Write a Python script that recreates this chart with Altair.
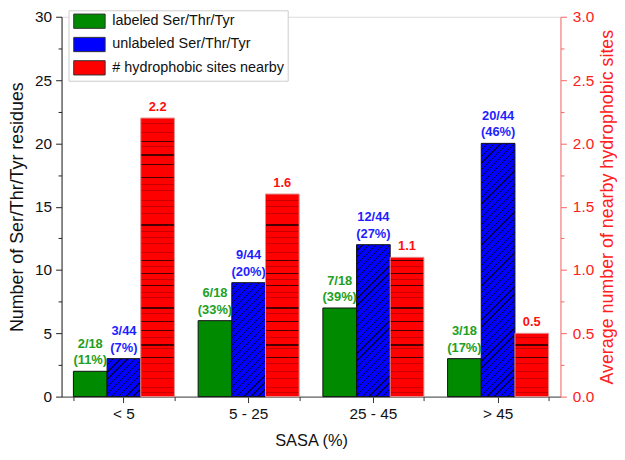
import math
import altair as alt
import pandas as pd

# ---------------- data ----------------
categories = ["< 5", "5 - 25", "25 - 45", "> 45"]
series_names = ["labeled Ser/Thr/Tyr", "unlabeled Ser/Thr/Tyr", "# hydrophobic sites nearby"]
labeled_counts = [2, 6, 7, 3]
labeled_frac = ["2/18", "6/18", "7/18", "3/18"]
labeled_pct = ["(11%)", "(33%)", "(39%)", "(17%)"]
unlabeled_counts = [3, 9, 12, 20]
unlabeled_frac = ["3/44", "9/44", "12/44", "20/44"]
unlabeled_pct = ["(7%)", "(20%)", "(27%)", "(46%)"]
hydro_avg = [2.2, 1.6, 1.1, 0.5]
hydro_labels = ["2.2", "1.6", "1.1", "0.5"]

# ---------------- style ----------------
FONT = "Arial, Liberation Sans, sans-serif"
PLOT_W, PLOT_H = 503, 383
Y_MAX, Y2_MAX = 30, 3
PAD_IN, PAD_OUT = 0.19, 0.095
GREEN, BLUE, RED = "#008a00", "#0000ff", "#ff0000"
STEP = PLOT_W / (len(categories) - PAD_IN + 2 * PAD_OUT)
BAR_W = STEP * (1 - PAD_IN) / 3
TICK_FS = 15.5
TITLE_FS = 18

# decorative line pattern of the red bars (px from bar bottom)
RED_PATTERN_DARK = [257, 243.7, 234.3, 221, 173, 137, 124.3, 112, 89.3, 76, 67, 52, 39.3]
RED_PATTERN_LIGHT = [281, 275.3, 266, 252, 214.3, 207.7, 198, 191.3, 184.7, 166.3, 160.3,
                     154.3, 145.3, 131.3, 117.7, 105.3, 100.3, 83.7, 59.7, 48.7, 33.7,
                     25.3, 18.7, 9.7, 4.3]


def hatch_gradient(h, w=BAR_W, period=4.9, lw=0.9, base=BLUE, ink="#000040"):
    L = (w + h) / math.sqrt(2)
    n = max(1, round(L / period))
    lam = (w + h) / (w * w + h * h)
    t_lw = lw / L
    stops = []
    for k in range(n):
        a, b = k / n, (k + 1) / n
        stops += [{"offset": a, "color": base}, {"offset": b - t_lw, "color": base},
                  {"offset": b - t_lw, "color": ink}, {"offset": b, "color": ink}]
    return {"gradient": "linear", "x1": 0, "y1": 0, "x2": w * lam, "y2": h * lam, "stops": stops}


def line_gradient(h, base=RED):
    lines = [(d, "#4a0000", 1.2) for d in RED_PATTERN_DARK] + \
            [(d, "#c80000", 1.0) for d in RED_PATTERN_LIGHT]
    lines = sorted([l for l in lines if l[0] < h - 1.5], key=lambda l: -l[0])
    stops = [{"offset": 0, "color": base}]
    for d, c, lw in lines:
        t = 1 - d / h
        a, b = t - lw / 2 / h, t + lw / 2 / h
        stops += [{"offset": a, "color": base}, {"offset": a, "color": c},
                  {"offset": b, "color": c}, {"offset": b, "color": base}]
    stops.append({"offset": 1, "color": base})
    return {"gradient": "linear", "x1": 0, "y1": 0, "x2": 0, "y2": 1, "stops": stops}


rows = []
for i, c in enumerate(categories):
    rows.append({"cat": c, "series": series_names[0], "value": labeled_counts[i],
                 "l1": labeled_frac[i], "l2": labeled_pct[i]})
    rows.append({"cat": c, "series": series_names[1], "value": unlabeled_counts[i],
                 "l1": unlabeled_frac[i], "l2": unlabeled_pct[i]})
    rows.append({"cat": c, "series": series_names[2], "value": hydro_avg[i],
                 "l1": "", "l2": hydro_labels[i]})
df = pd.DataFrame(rows)

x_scale = alt.Scale(domain=categories, paddingInner=PAD_IN, paddingOuter=PAD_OUT)
x_main = alt.X("cat:N", sort=categories, scale=x_scale,
               axis=alt.Axis(orient="bottom", title="SASA (%)", labelAngle=0, labelFontSize=TICK_FS,
                             titleFontSize=16.5, labelFont=FONT, titleFont=FONT, titleFontWeight="normal",
                             labelColor="#111", titleColor="#111", tickSize=6, tickColor="#333",
                             domainColor="#666", domainWidth=1.5, labelPadding=4, titlePadding=11))
x_minor = alt.X("cat:N", sort=categories, scale=x_scale,
                axis=alt.Axis(orient="bottom", title=None, labels=False, domain=False, tickBand="extent",
                              tickSize=4, tickColor="#333"))
xo = alt.XOffset("series:N", scale=alt.Scale(domain=series_names, paddingInner=0, paddingOuter=0))

y_left = alt.Y("value:Q", scale=alt.Scale(domain=[0, Y_MAX], nice=False, zero=True),
               axis=alt.Axis(title="Number of Ser/Thr/Tyr residues", values=[i * 2.5 for i in range(13)],
                             labelExpr="datum.value % 5 === 0 ? datum.label : ''",
                             tickSize={"condition": {"test": "datum.value % 5 === 0", "value": 6}, "value": 3.5},
                             labelFontSize=TICK_FS, titleFontSize=TITLE_FS, labelFont=FONT, titleFont=FONT,
                             titleFontWeight="normal", labelColor="#111", titleColor="#111",
                             tickColor="#222", domainColor="#222", labelPadding=4, titlePadding=8,
                             grid=False))
y_right = alt.Y("value:Q", scale=alt.Scale(domain=[0, Y2_MAX], nice=False, zero=True),
                axis=alt.Axis(orient="right", title="Average number of nearby hydrophobic sites",
                              values=[i * 0.25 for i in range(13)],
                              labelExpr="round(datum.value * 100) % 50 === 0 ? format(datum.value, '.1f') : ''",
                              tickSize={"condition": {"test": "round(datum.value * 100) % 50 === 0", "value": 6}, "value": 3.5},
                              labelFontSize=TICK_FS, titleFontSize=TITLE_FS, labelFont=FONT, titleFont=FONT,
                              titleFontWeight="normal", labelColor="#ff2020", titleColor="#ff2020",
                              tickColor="#ff6060", domainColor="#ff7070", labelPadding=6, titlePadding=5,
                              titleAngle=270, titleBaseline="top", grid=False))

legend = alt.Legend(orient="none", legendX=7, legendY=-6.5, title=None,
                    symbolType="M-2.2,-1H2.2V1H-2.2Z", symbolSize=207, symbolOffset=10.1,
                    symbolStrokeColor="#333", symbolStrokeWidth=1,
                    labelFont=FONT, labelFontSize=14.5, labelColor="#111", labelOffset=15,
                    labelLimit=400,
                    strokeColor="#cccccc", fillColor="white", padding=3, rowPadding=3.5)
color = alt.Color("series:N", scale=alt.Scale(domain=series_names, range=[GREEN, BLUE, RED]), legend=legend)

px_left = PLOT_H / Y_MAX
px_right = PLOT_H / Y2_MAX

blue_fill = alt.FillValue(
    value=BLUE,
    condition=[{"test": f"datum.cat === '{c}'", "value": hatch_gradient(unlabeled_counts[i] * px_left)}
               for i, c in enumerate(categories)])
red_fill = alt.FillValue(
    value=RED,
    condition=[{"test": f"datum.cat === '{c}'", "value": line_gradient(hydro_avg[i] * px_right)}
               for i, c in enumerate(categories)])

base = alt.Chart(df)


def only(k):
    return base.transform_filter(alt.datum.series == series_names[k])


green_bars = only(0).mark_bar(stroke="#111", strokeWidth=1).encode(
    x=x_main, xOffset=xo, y=y_left, color=color)
blue_bars = only(1).mark_bar(stroke="#111", strokeWidth=1).encode(
    x=x_main, xOffset=xo, y=y_left, fill=blue_fill)

text_props = dict(baseline="bottom", fontWeight="bold", fontSize=13, font=FONT)
LINE_H = 16.5


def label_layers(k, col, y):
    a = only(k).mark_text(color=col, dy=-4 - LINE_H, **text_props).encode(
        x=x_main, xOffset=xo, y=y, text="l1:N")
    b = only(k).mark_text(color=col, dy=-4, **text_props).encode(
        x=x_main, xOffset=xo, y=y, text="l2:N")
    return [a, b]


red_bars = only(2).mark_bar(stroke="#e09090", strokeWidth=1).encode(
    x=x_minor, xOffset=xo, y=y_right, fill=red_fill)
red_text = only(2).mark_text(color="#ff1010", dy=-4, **text_props).encode(
    x=x_minor, xOffset=xo, y=y_right, text="l2:N")

left = alt.layer(green_bars, blue_bars, *label_layers(0, "#22a022", y_left),
                 *label_layers(1, "#1f1fff", y_left))
right = alt.layer(red_bars, red_text)

chart = alt.layer(left, right).resolve_scale(y="independent").resolve_axis(x="independent").properties(
    width=PLOT_W, height=PLOT_H, padding={"left": 0, "top": 0, "right": 0, "bottom": 0},
    background="white"
).configure_view(stroke=None).configure(font=FONT)

chart.save("out.html", embed_options={"renderer": "svg", "actions": False})
